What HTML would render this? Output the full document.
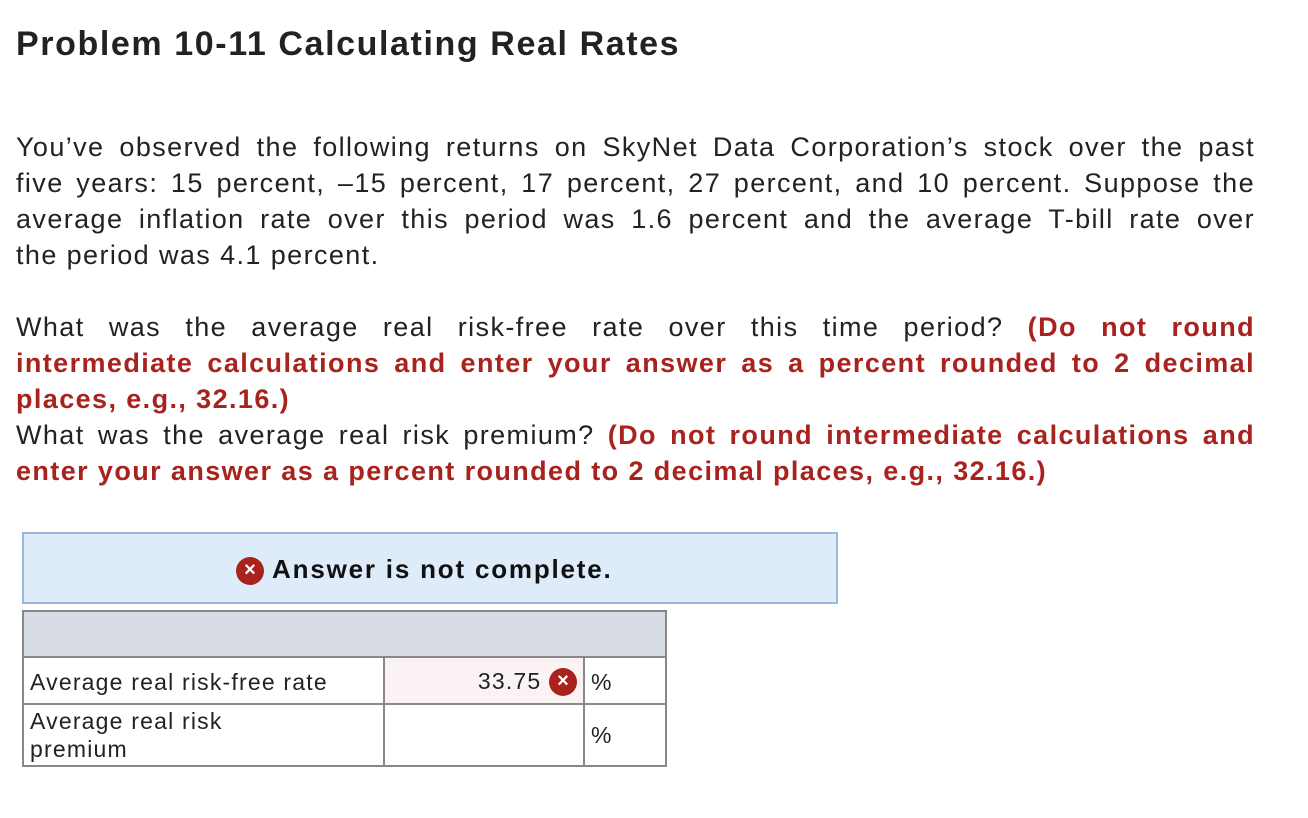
<!DOCTYPE html>
<html><head><meta charset="utf-8"><style>
body{margin:0;width:1308px;height:818px;background:#fff;font-family:"Liberation Sans",sans-serif;color:#222;position:relative;overflow:hidden}
.t{position:absolute;left:16px;top:25px;font-size:34px;font-weight:bold;color:#222;letter-spacing:1.6px}
.l{position:absolute;left:16px;width:1239px;font-size:27px;letter-spacing:1.4px;line-height:36px;white-space:nowrap;text-align:justify;text-align-last:justify}
.nl{text-align-last:left}
.r{color:#a8221e;font-weight:bold}
.box{position:absolute;left:22px;top:532px;width:812px;height:68px;background:#deebf8;border:2px solid #9ab8da;font-weight:bold;font-size:26px;letter-spacing:1.8px;color:#111}
.x{display:inline-block;width:28px;height:28px;border-radius:50%;background:#a8221e;color:#fff;text-align:center;line-height:27px;font-size:20px;font-weight:bold;vertical-align:middle;letter-spacing:0}
table{position:absolute;left:22px;top:610px;border-collapse:collapse;font-size:23px;letter-spacing:1.2px}
td{border:2px solid #888;padding:0 6px;color:#222}
</style></head><body>
<div class="t">Problem 10-11 Calculating Real Rates</div>
<div>
<div class="l" style="top:129px">You’ve observed the following returns on SkyNet Data Corporation’s stock over the past</div>
<div class="l" style="top:165px">five years: 15 percent, –15 percent, 17 percent, 27 percent, and 10 percent. Suppose the</div>
<div class="l" style="top:201px">average inflation rate over this period was 1.6 percent and the average T-bill rate over</div>
<div class="l nl" style="top:237px">the period was 4.1 percent.</div>
<div class="l" style="top:309px">What was the average real risk-free rate over this time period? <span class="r">(Do not round</span></div>
<div class="l r" style="top:345px">intermediate calculations and enter your answer as a percent rounded to 2 decimal</div>
<div class="l nl r" style="top:381px">places, e.g., 32.16.)</div>
<div class="l" style="top:417px">What was the average real risk premium? <span class="r">(Do not round intermediate calculations and</span></div>
<div class="l nl r" style="top:453px">enter your answer as a percent rounded to 2 decimal places, e.g., 32.16.)</div>
</div>
<div class="box">
<div style="position:absolute;left:212px;top:20px"><span class="x">×</span> Answer is not complete.</div>
</div>
<table>
<tr style="height:46px;background:#d8dde5"><td colspan="3" style="width:629px"></td></tr>
<tr style="height:47px"><td style="width:347px;padding-top:3px">Average real risk-free rate</td>
<td style="width:186px;background:#fbf3f3;text-align:right;padding-top:3px">33.75 <span class="x">×</span></td>
<td style="width:68px;padding-top:3px">%</td></tr>
<tr style="height:62px"><td style="line-height:28px">Average real risk<br>premium</td>
<td></td><td>%</td></tr>
</table>
</body></html>
